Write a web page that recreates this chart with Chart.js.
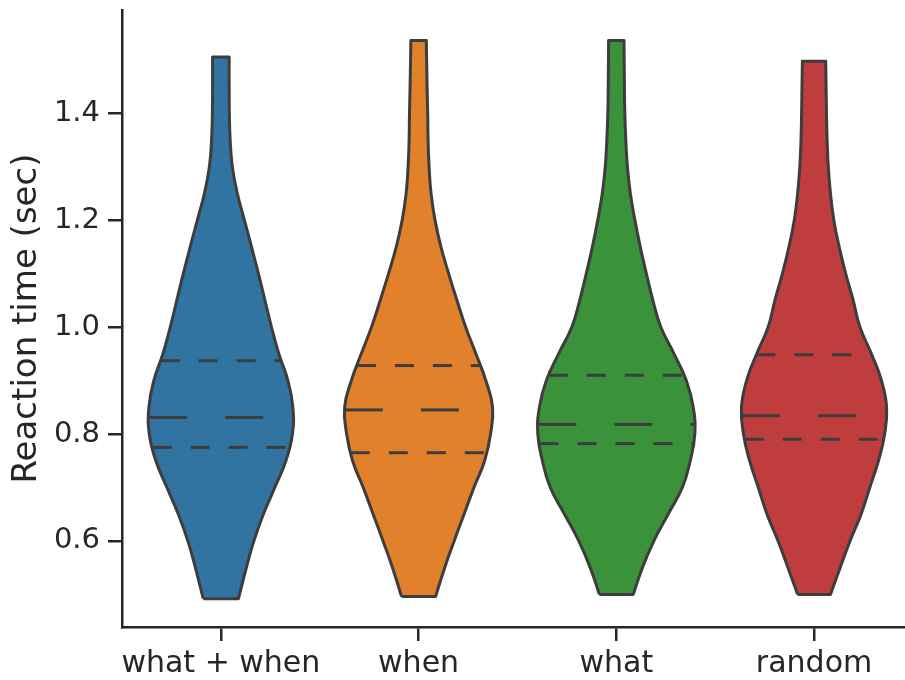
<!DOCTYPE html>
<html>
<head>
<meta charset="utf-8">
<script src="https://cdn.jsdelivr.net/npm/chart.js@4.4.1/dist/chart.umd.min.js"></script>
<style>
  html, body { margin: 0; padding: 0; background: #fff; overflow: hidden; }
  #wrap { width: 905px; height: 680px; position: relative; }
</style>
</head>
<body>
<div id="wrap"><canvas id="violins"></canvas></div>
<script>
// categories on the x axis
const groups = ['what + when', 'when', 'what', 'random'];
const fills = ['#3274a1', '#e1812c', '#3a923a', '#c03d3e'];

// y ticks
const yTicks = [0.6, 0.8, 1.0, 1.2, 1.4];

// reaction time levels where the violin half-widths were read
const levels = [0.55, 0.60, 0.65, 0.70, 0.75, 0.80, 0.85, 0.90, 0.95, 1.00,
                1.05, 1.10, 1.15, 1.20, 1.25, 1.30, 1.35, 1.40, 1.45];

// data range of each violin (cut = 0)
const rtMin = [0.492, 0.496, 0.500, 0.500];
const rtMax = [1.505, 1.536, 1.536, 1.497];

// half-width (in category units) at rtMin, at each level, at rtMax
const widthWhatWhen = [0.089, 0.129, 0.167, 0.215, 0.273, 0.329, 0.362, 0.364, 0.339, 0.293, 0.256,
                       0.223, 0.190, 0.155, 0.119, 0.083, 0.058, 0.047, 0.043, 0.042, 0.042];
const widthWhen     = [0.086, 0.132, 0.180, 0.230, 0.280, 0.334, 0.364, 0.374, 0.340, 0.290, 0.238,
                       0.194, 0.152, 0.113, 0.083, 0.063, 0.053, 0.048, 0.046, 0.043, 0.039];
const widthWhat     = [0.086, 0.132, 0.190, 0.262, 0.334, 0.374, 0.397, 0.389, 0.354, 0.292, 0.225,
                       0.185, 0.152, 0.121, 0.094, 0.071, 0.056, 0.048, 0.043, 0.041, 0.039];
const widthRandom   = [0.083, 0.132, 0.182, 0.238, 0.282, 0.326, 0.357, 0.367, 0.341, 0.290, 0.232,
                       0.198, 0.160, 0.127, 0.100, 0.083, 0.072, 0.066, 0.063, 0.061, 0.059];
const widths = [widthWhatWhen, widthWhen, widthWhat, widthRandom];

// quartiles
const q1     = [0.775, 0.765, 0.782, 0.790];
const median = [0.831, 0.845, 0.818, 0.834];
const q3     = [0.937, 0.928, 0.910, 0.948];

const ink = '#3d3d3d';
const textColor = '#262626';
const font = 'DejaVu Sans';

function profile(i) {
  return { ys: [rtMin[i], ...levels, rtMax[i]], ws: widths[i] };
}

function outline(i) {
  const {ys, ws} = profile(i);
  const n = ys.length;
  const pts = [];
  for (let k = 0; k < n; k++) pts.push({x: i - ws[k], y: ys[k]});
  pts.push({x: i - ws[n - 1], y: ys[n - 1]});            // keep flat top straight
  for (let k = n - 1; k >= 0; k--) {
    pts.push({x: i + ws[k], y: ys[k]});
    if (k === n - 1) pts.push({x: i + ws[k], y: ys[k]});
  }
  pts.push({x: i + ws[0], y: ys[0]});                    // keep flat bottom straight
  pts.push({x: i - ws[0], y: ys[0]});
  return pts;
}

function halfWidthAt(i, v) {
  const {ys, ws} = profile(i);
  for (let k = 0; k < ys.length - 1; k++) {
    if (v >= ys[k] && v <= ys[k + 1]) {
      const t = (v - ys[k]) / (ys[k + 1] - ys[k]);
      return ws[k] + t * (ws[k + 1] - ws[k]);
    }
  }
  return 0;
}

function hline(i, v, dash) {
  const w = halfWidthAt(i, v);
  return {
    data: [{x: i - w, y: v}, {x: i + w, y: v}],
    showLine: true, fill: false, tension: 0,
    borderColor: ink, borderWidth: 3, borderDash: dash,
    pointRadius: 0, order: 0
  };
}

const datasets = [];
groups.forEach((g, i) => {
  datasets.push({
    label: g,
    data: outline(i),
    showLine: true,
    fill: 'shape',
    tension: 0.45,
    backgroundColor: fills[i],
    borderColor: ink,
    borderWidth: 3,
    borderJoinStyle: 'round',
    pointRadius: 0,
    order: 1
  });
  datasets.push(hline(i, q1[i], [19, 19]));
  datasets.push(hline(i, median[i], [38, 38]));
  datasets.push(hline(i, q3[i], [19, 19]));
});

new Chart(document.getElementById('violins'), {
  type: 'scatter',
  data: { datasets },
  options: {
    responsive: true,
    maintainAspectRatio: false,
    animation: false,
    events: [],
    layout: { padding: { top: 10, right: 0, left: 0, bottom: 0 } },
    plugins: { legend: { display: false }, tooltip: { enabled: false } },
    scales: {
      x: {
        type: 'linear',
        min: -0.5,
        max: 3.46,
        afterFit: s => { s.height = 53; s.paddingLeft = 0; s.paddingRight = 0; },
        afterBuildTicks: s => { s.ticks = groups.map((g, i) => ({ value: i })); },
        grid: { display: true, drawOnChartArea: false, drawTicks: true, tickLength: 14, color: textColor, lineWidth: 2.5 },
        border: { display: true, color: textColor, width: 2.5 },
        ticks: {
          color: textColor, padding: 5, maxRotation: 0, autoSkip: false,
          font: { family: font, size: 30 },
          callback: v => groups[v]
        }
      },
      y: {
        type: 'linear',
        min: 0.439,
        max: 1.593,
        afterFit: s => { s.width = 122; s.paddingTop = 0; s.paddingBottom = 0; },
        afterBuildTicks: s => { s.ticks = yTicks.map(v => ({ value: v })); },
        grid: { display: true, drawOnChartArea: false, drawTicks: true, tickLength: 14, color: textColor, lineWidth: 2.5 },
        border: { display: true, color: textColor, width: 2.5 },
        ticks: {
          color: textColor, padding: 8,
          font: { family: font, size: 29 },
          callback: v => v.toFixed(1)
        },
        title: {
          display: true,
          text: 'Reaction time (sec)',
          color: textColor,
          padding: { top: 7, bottom: 0 },
          font: { family: font, size: 34 }
        }
      }
    }
  }
});
</script>
</body>
</html>
